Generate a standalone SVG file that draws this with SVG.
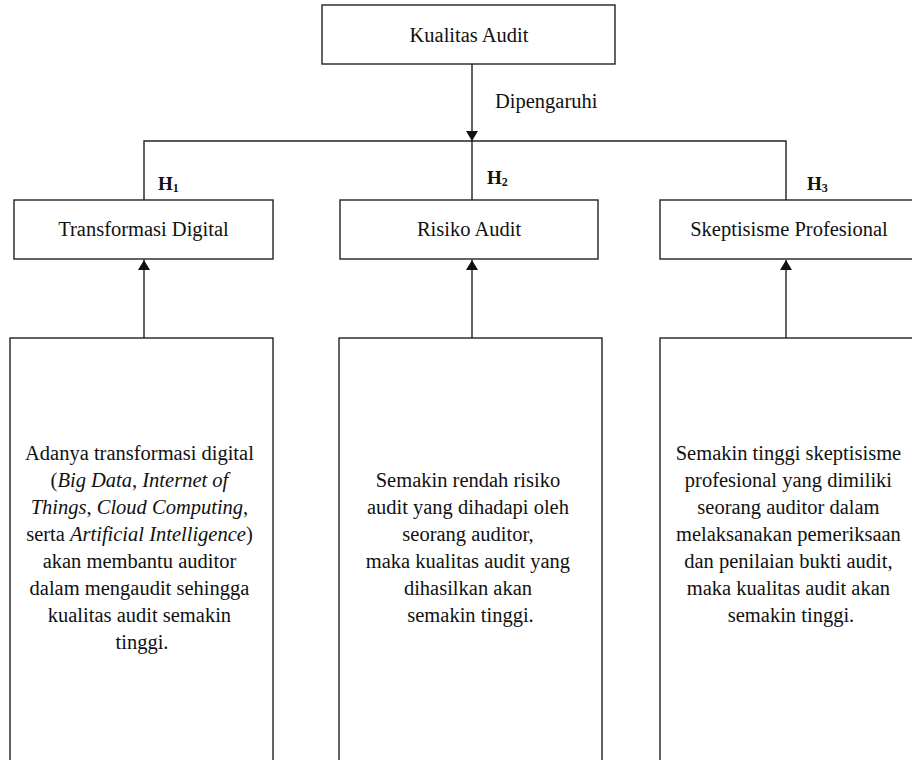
<svg xmlns="http://www.w3.org/2000/svg" width="912" height="760" viewBox="0 0 912 760">
<defs>
<style>
.box{fill:#fff;stroke:#222;stroke-width:1.4}
.t{font-family:"Liberation Serif","Times New Roman",serif;font-size:20.5px;fill:#111;text-anchor:middle}
.h{font-family:"Liberation Serif","Times New Roman",serif;font-size:19px;font-weight:bold;fill:#111}
.sub{font-size:12px}
.ln{fill:none;stroke:#222;stroke-width:1.4}
</style>
<marker id="ah" viewBox="0 0 10 12" refX="10" refY="6" markerWidth="10" markerHeight="12" markerUnits="userSpaceOnUse" orient="auto">
<path d="M0,0 L10,6 L0,12 Z" fill="#111"/>
</marker>
</defs>
<rect width="912" height="760" fill="#fff"/>
<g id="connectors">
<line class="ln" x1="472" y1="64" x2="472" y2="141" marker-end="url(#ah)"/>
<polyline class="ln" points="144,200 144,141 786,141 786,200"/>
<line class="ln" x1="472" y1="141" x2="472" y2="200"/>
<line class="ln" x1="144" y1="338" x2="144" y2="260" marker-end="url(#ah)"/>
<line class="ln" x1="472" y1="338" x2="472" y2="260" marker-end="url(#ah)"/>
<line class="ln" x1="786" y1="338" x2="786" y2="260" marker-end="url(#ah)"/>
<text x="495" y="108" class="t" style="text-anchor:start">Dipengaruhi</text>
<text x="158" y="190" class="h">H<tspan class="sub" dy="2">1</tspan></text>
<text x="487" y="184" class="h">H<tspan class="sub" dy="2">2</tspan></text>
<text x="807" y="190" class="h">H<tspan class="sub" dy="2">3</tspan></text>
</g>
<g id="kualitas-audit">
<rect class="box" x="322" y="5" width="293" height="59"/>
<text x="469" y="42" class="t">Kualitas Audit</text>
</g>
<g id="transformasi-digital">
<rect class="box" x="14" y="200" width="259" height="59"/>
<text x="143.5" y="236" class="t">Transformasi Digital</text>
</g>
<g id="risiko-audit">
<rect class="box" x="340" y="200" width="258" height="59"/>
<text x="469" y="236" class="t">Risiko Audit</text>
</g>
<g id="skeptisisme-profesional">
<rect class="box" x="660" y="200" width="258" height="59"/>
<text x="789" y="236" class="t">Skeptisisme Profesional</text>
</g>
<g id="desc-transformasi">
<rect class="box" x="10" y="338" width="263" height="440"/>
<text class="t">
<tspan x="142" y="460">Adanya transformasi digital</tspan>
<tspan x="142" y="487">(<tspan font-style="italic">Big Data</tspan>, <tspan font-style="italic">Internet of</tspan></tspan>
<tspan x="142" y="514"><tspan font-style="italic">Things</tspan>, <tspan font-style="italic">Cloud Computing</tspan>,</tspan>
<tspan x="142" y="541">serta <tspan font-style="italic">Artificial Intelligence</tspan>)</tspan>
<tspan x="142" y="568">akan membantu auditor</tspan>
<tspan x="142" y="595">dalam mengaudit sehingga</tspan>
<tspan x="142" y="622">kualitas audit semakin</tspan>
<tspan x="142" y="649">tinggi.</tspan>
</text>
</g>
<g id="desc-risiko">
<rect class="box" x="339" y="338" width="263" height="440"/>
<text class="t">
<tspan x="470.5" y="487">Semakin rendah risiko</tspan>
<tspan x="470.5" y="514">audit yang dihadapi oleh</tspan>
<tspan x="470.5" y="541">seorang auditor,</tspan>
<tspan x="470.5" y="568">maka kualitas audit yang</tspan>
<tspan x="470.5" y="595">dihasilkan akan</tspan>
<tspan x="470.5" y="622">semakin tinggi.</tspan>
</text>
</g>
<g id="desc-skeptisisme">
<rect class="box" x="660" y="338" width="263" height="440"/>
<text class="t">
<tspan x="791" y="460">Semakin tinggi skeptisisme</tspan>
<tspan x="791" y="487">profesional yang dimiliki</tspan>
<tspan x="791" y="514">seorang auditor dalam</tspan>
<tspan x="791" y="541">melaksanakan pemeriksaan</tspan>
<tspan x="791" y="568">dan penilaian bukti audit,</tspan>
<tspan x="791" y="595">maka kualitas audit akan</tspan>
<tspan x="791" y="622">semakin tinggi.</tspan>
</text>
</g>
</svg>
